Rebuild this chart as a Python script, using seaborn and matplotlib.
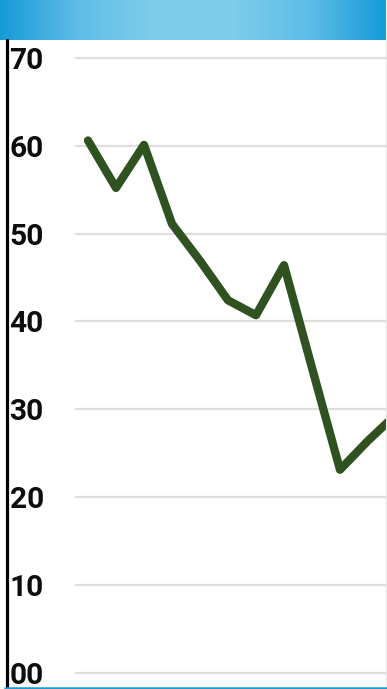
import numpy as np
import pandas as pd
import matplotlib
matplotlib.use("Agg")
import matplotlib.pyplot as plt
from matplotlib import font_manager
from matplotlib.colors import LinearSegmentedColormap
from matplotlib.lines import Line2D
import seaborn as sns

# ---- data ----
points = list(range(12))
values = [60.6, 55.2, 60.1, 51.1, 46.9, 42.4, 40.7, 46.4, 34.7, 23.1, 26.4, 29.4]
tick_values = [0, 10, 20, 30, 40, 50, 60, 70]
tick_labels = ["00", "10", "20", "30", "40", "50", "60", "70"]

df = pd.DataFrame({"point": points, "value": values})

sns.set_style("white")
names = {f.name for f in font_manager.fontManager.ttflist}
if "Liberation Sans Narrow" in names:
    fam = ["Liberation Sans Narrow", "DejaVu Sans"]
    fsize = 22
elif "Roboto" in names:
    fam = ["Roboto", "DejaVu Sans"]
    fsize = 21.5
else:
    fam = ["DejaVu Sans"]
    fsize = 18
plt.rcParams["font.family"] = fam

W, H = 387, 689
fig = plt.figure(figsize=(W / 100, H / 100), dpi=100)

ax_top, ax_bot = 40, 687
ax = fig.add_axes([75 / W, (H - ax_bot) / H, (386 - 75) / W, (ax_bot - ax_top) / H])
sns.lineplot(data=df, x="point", y="value", ax=ax, color="#2f5220",
             linewidth=6.0, solid_capstyle="round", solid_joinstyle="round")
ax.set_xlim(-13 / 28, (386 - 88) / 28)
ax.set_ylim(-(ax_bot - 672.5) / 8.779, (672.5 - ax_top) / 8.779)
ax.set_yticks(tick_values)
ax.set_yticklabels(tick_labels, fontsize=fsize, fontweight="bold", color="#0d0d0d")
for lab in ax.get_yticklabels():
    lab.set_horizontalalignment("left")
ax.tick_params(axis="y", length=0, pad=(75 - 9.5) * 0.72)
ax.set_xticks([])
ax.set_xlabel("")
ax.set_ylabel("")
ax.grid(axis="y", color="#dedede", linewidth=1.6)
ax.set_axisbelow(True)
for s in ["top", "left", "bottom"]:
    ax.spines[s].set_visible(False)
ax.spines["right"].set_color("#e8e8e8")
ax.spines["right"].set_linewidth(0.8)

# top banner gradient
bax = fig.add_axes([0, (H - 40) / H, 386 / W, 40 / H])
cmap = LinearSegmentedColormap.from_list("b", ["#159bd8", "#5fbde6", "#7ecdeb", "#7ecdeb", "#5fbde6", "#159bd8"])
bax.imshow(np.linspace(0, 1, 256)[None, :], aspect="auto", cmap=cmap, extent=[0, 1, 0, 1])
bax.set_axis_off()

# left black rule and bottom blue rule
fig.add_artist(Line2D([6.5 / W, 6.5 / W], [0, (H - 40) / H], color="black", linewidth=2.3,
                      transform=fig.transFigure))
fig.add_artist(Line2D([5 / W, 386 / W], [1.2 / H, 1.2 / H], color="#1a9ad6", linewidth=1.8,
                      transform=fig.transFigure))

fig.savefig("out.png", dpi=100)
